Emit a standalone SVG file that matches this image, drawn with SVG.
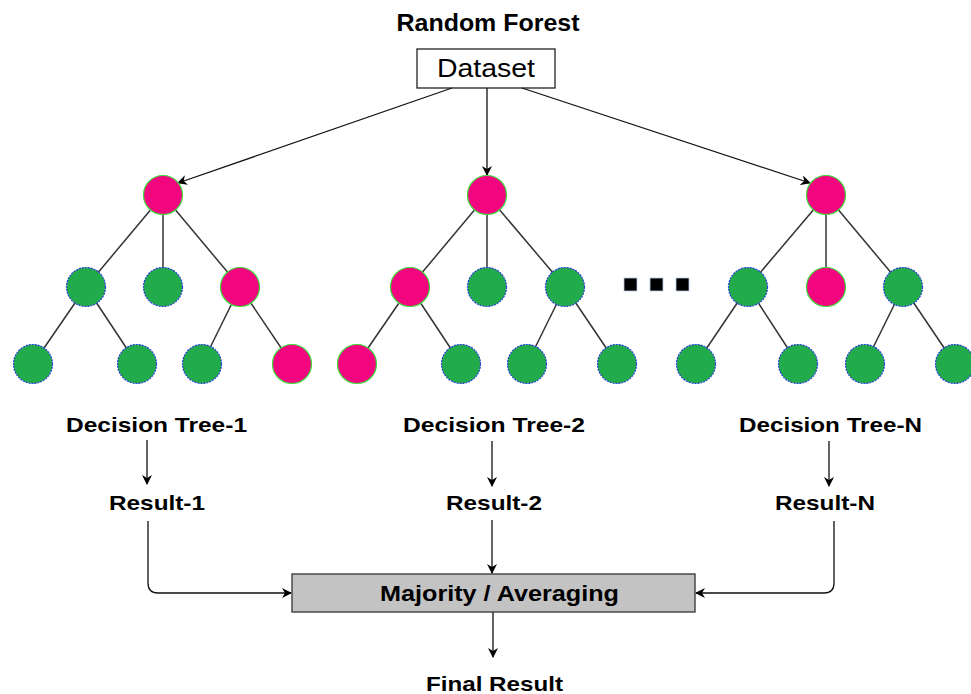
<svg xmlns="http://www.w3.org/2000/svg" width="971" height="694" viewBox="0 0 971 694">
  <style>
    text { font-family: "Liberation Sans", Arial, sans-serif; fill: #000; text-anchor: middle; }
    .title { font-size: 23px; font-weight: bold; }
    .lbl { font-size: 21px; font-weight: bold; }
    .big { font-size: 22px; font-weight: bold; }
    .ds { font-size: 26px; }
    .edge { stroke: #333; stroke-width: 1.5; fill: none; }
    .conn { stroke: #111; stroke-width: 1.3; fill: none; }
    .pink { fill: #f3057f; stroke: #3ddc3d; stroke-width: 1.2; }
    .green { fill: #22ab4b; stroke: #2b3ed6; stroke-width: 1.2; stroke-dasharray: 2 1; }
  </style>
  <defs>
    <marker id="arr" viewBox="0 0 10 10" refX="9" refY="5" markerWidth="10" markerHeight="10" markerUnits="userSpaceOnUse" orient="auto">
      <path d="M0,0 L10,5 L0,10 L3,5 z" fill="#000"/>
    </marker>
  </defs>

  <rect width="971" height="694" fill="#fff"/>

  <text class="title" x="488" y="31" textLength="183" lengthAdjust="spacingAndGlyphs">Random Forest</text>

  <g id="dataset">
    <rect x="417" y="49" width="138" height="39" fill="#fff" stroke="#222" stroke-width="1.3"/>
    <text class="ds" x="486" y="77" textLength="98" lengthAdjust="spacingAndGlyphs">Dataset</text>
  </g>

  <!-- connectors -->
  <g id="connectors">
    <line class="conn" x1="452" y1="88" x2="178" y2="183" marker-end="url(#arr)"/>
    <line class="conn" x1="487" y1="88" x2="487" y2="175" marker-end="url(#arr)"/>
    <line class="conn" x1="522" y1="88" x2="810" y2="183" marker-end="url(#arr)"/>
    <line class="conn" x1="147" y1="440" x2="147" y2="484" marker-end="url(#arr)"/>
    <line class="conn" x1="492" y1="441" x2="492" y2="486" marker-end="url(#arr)"/>
    <line class="conn" x1="829" y1="441" x2="829" y2="486" marker-end="url(#arr)"/>
    <path class="conn" d="M148,521 V583 Q148,593 158,593 H291" marker-end="url(#arr)"/>
    <line class="conn" x1="492" y1="520" x2="492" y2="573" marker-end="url(#arr)"/>
    <path class="conn" d="M834,521 V583 Q834,593 824,593 H696" marker-end="url(#arr)"/>
    <line class="conn" x1="493" y1="612" x2="493" y2="657" marker-end="url(#arr)"/>
  </g>

  <!-- tree 1 -->
  <g id="tree1">
    <g class="edge">
      <line x1="163" y1="195" x2="86" y2="287"/>
      <line x1="163" y1="195" x2="163" y2="287"/>
      <line x1="163" y1="195" x2="240" y2="287"/>
      <line x1="86" y1="287" x2="33" y2="364"/>
      <line x1="86" y1="287" x2="137" y2="364"/>
      <line x1="240" y1="287" x2="202" y2="364"/>
      <line x1="240" y1="287" x2="292" y2="364"/>
    </g>
    <circle class="pink" cx="163" cy="195" r="19.5"/>
    <circle class="green" cx="86" cy="287" r="19.5"/>
    <circle class="green" cx="163" cy="287" r="19.5"/>
    <circle class="pink" cx="240" cy="287" r="19.5"/>
    <circle class="green" cx="33" cy="364" r="19.5"/>
    <circle class="green" cx="137" cy="364" r="19.5"/>
    <circle class="green" cx="202" cy="364" r="19.5"/>
    <circle class="pink" cx="292" cy="364" r="19.5"/>
  </g>

  <!-- tree 2 -->
  <g id="tree2">
    <g class="edge">
      <line x1="487" y1="195" x2="410" y2="287"/>
      <line x1="487" y1="195" x2="487" y2="287"/>
      <line x1="487" y1="195" x2="565" y2="287"/>
      <line x1="410" y1="287" x2="357" y2="364"/>
      <line x1="410" y1="287" x2="461" y2="364"/>
      <line x1="565" y1="287" x2="527" y2="364"/>
      <line x1="565" y1="287" x2="617" y2="364"/>
    </g>
    <circle class="pink" cx="487" cy="195" r="19.5"/>
    <circle class="pink" cx="410" cy="287" r="19.5"/>
    <circle class="green" cx="487" cy="287" r="19.5"/>
    <circle class="green" cx="565" cy="287" r="19.5"/>
    <circle class="pink" cx="357" cy="364" r="19.5"/>
    <circle class="green" cx="461" cy="364" r="19.5"/>
    <circle class="green" cx="527" cy="364" r="19.5"/>
    <circle class="green" cx="617" cy="364" r="19.5"/>
  </g>

  <!-- ellipsis -->
  <g id="dots" fill="#000" stroke="#b8cce8" stroke-width="0.8">
    <rect x="624" y="278" width="13" height="13"/>
    <rect x="650" y="278" width="13" height="13"/>
    <rect x="676" y="278" width="13" height="13"/>
  </g>

  <!-- tree N -->
  <g id="treeN">
    <g class="edge">
      <line x1="826" y1="195" x2="748" y2="287"/>
      <line x1="826" y1="195" x2="826" y2="287"/>
      <line x1="826" y1="195" x2="903" y2="287"/>
      <line x1="748" y1="287" x2="696" y2="364"/>
      <line x1="748" y1="287" x2="798" y2="364"/>
      <line x1="903" y1="287" x2="865" y2="364"/>
      <line x1="903" y1="287" x2="955" y2="364"/>
    </g>
    <circle class="pink" cx="826" cy="195" r="19.5"/>
    <circle class="green" cx="748" cy="287" r="19.5"/>
    <circle class="pink" cx="826" cy="287" r="19.5"/>
    <circle class="green" cx="903" cy="287" r="19.5"/>
    <circle class="green" cx="696" cy="364" r="19.5"/>
    <circle class="green" cx="798" cy="364" r="19.5"/>
    <circle class="green" cx="865" cy="364" r="19.5"/>
    <circle class="green" cx="955" cy="364" r="19.5"/>
  </g>

  <g id="labels">
    <text class="lbl" x="156.5" y="432" textLength="181" lengthAdjust="spacingAndGlyphs">Decision Tree-1</text>
    <text class="lbl" x="494" y="432" textLength="182" lengthAdjust="spacingAndGlyphs">Decision Tree-2</text>
    <text class="lbl" x="830.5" y="432" textLength="183" lengthAdjust="spacingAndGlyphs">Decision Tree-N</text>
    <text class="lbl" x="157" y="510" textLength="96" lengthAdjust="spacingAndGlyphs">Result-1</text>
    <text class="lbl" x="494" y="510" textLength="96" lengthAdjust="spacingAndGlyphs">Result-2</text>
    <text class="lbl" x="825" y="510" textLength="100" lengthAdjust="spacingAndGlyphs">Result-N</text>
  </g>

  <g id="aggregate">
    <rect x="292" y="574" width="403" height="38" fill="#c3c3c3" stroke="#333" stroke-width="1.3"/>
    <text class="big" x="499.5" y="601" textLength="239" lengthAdjust="spacingAndGlyphs">Majority / Averaging</text>
  </g>

  <g id="final">
    <text class="lbl" x="494.5" y="691" textLength="137" lengthAdjust="spacingAndGlyphs">Final Result</text>
  </g>
</svg>
